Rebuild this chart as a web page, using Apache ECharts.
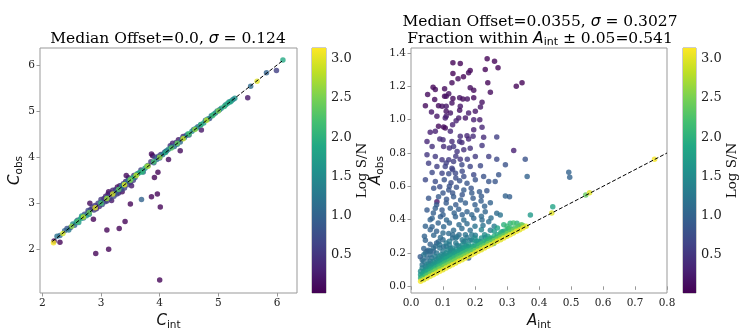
<!DOCTYPE html>
<html>
<head>
<meta charset="utf-8">
<script src="https://cdn.jsdelivr.net/npm/echarts@6/dist/echarts.min.js"></script>
<style>
  html, body { margin: 0; padding: 0; background: #fff; }
  #chart { width: 747px; height: 336px; }
</style>
</head>
<body>
<div id="chart"></div>
<script>
// [C_int, C_obs, log S/N]
const cPoints = [
  [4.0, 1.33, 0.05], [2.91, 1.91, 0.05], [3.13, 2.0, 0.05], [3.10, 2.42, 0.05], [3.31, 2.45, 0.05],
  [3.41, 2.60, 0.05], [3.50, 2.98, 0.05], [4.01, 2.92, 0.05], [3.86, 3.14, 0.05], [3.96, 3.2, 0.05],
  [3.69, 3.08, 1.0], [3.91, 3.56, 0.05], [3.97, 3.67, 0.05], [2.87, 2.65, 0.05], [2.81, 3.0, 0.1],
  [2.30, 2.15, 0.05], [4.15, 3.95, 0.1], [4.35, 4.14, 0.1], [4.71, 4.59, 0.2], [5.50, 5.29, 0.2],
  [5.99, 5.88, 0.6], [6.10, 6.11, 1.9], [5.82, 5.83, 1.0], [5.66, 5.65, 3.0], [5.55, 5.54, 1.1],
  [2.19, 2.14, 3.1], [2.20, 2.18, 0.05],
  [2.35, 2.34, 2.9], [2.5, 2.5, 2.6], [2.6, 2.6, 2.2], [2.7, 2.7, 2.8], [2.8, 2.8, 2.4], [2.9, 2.9, 3.0],
  [3.0, 3.0, 2.2], [3.1, 3.1, 2.7], [3.2, 3.2, 2.9], [3.3, 3.3, 2.3], [3.4, 3.4, 3.0], [3.5, 3.5, 2.5],
  [3.6, 3.6, 2.8], [3.7, 3.7, 2.0], [3.8, 3.8, 2.7], [3.9, 3.9, 2.2], [4.0, 4.0, 2.6], [4.1, 4.1, 1.9],
  [4.2, 4.2, 2.3], [4.3, 4.3, 2.4], [4.4, 4.4, 2.9], [4.5, 4.5, 2.2], [4.6, 4.6, 2.6], [4.7, 4.7, 2.0],
  [4.8, 4.8, 2.8], [4.9, 4.9, 2.1], [5.0, 5.0, 2.5], [5.1, 5.1, 2.0], [5.2, 5.2, 1.8], [5.28, 5.28, 1.6],
  [2.25, 2.28, 1.2], [2.3, 2.3, 1.1], [2.38, 2.4, 1.0], [2.42, 2.45, 0.8], [2.45, 2.42, 1.3], [2.48, 2.47, 0.7],
  [2.52, 2.55, 1.5], [2.55, 2.52, 1.0], [2.58, 2.6, 1.6], [2.6, 2.63, 0.9], [2.62, 2.58, 1.7], [2.65, 2.66, 1.9],
  [2.67, 2.72, 1.5], [2.68, 2.7, 1.8], [2.7, 2.68, 1.2], [2.72, 2.76, 0.8], [2.75, 2.73, 1.6], [2.78, 2.8, 0.6],
  [2.78, 2.84, 0.7], [2.8, 2.76, 1.4],
  [2.82, 2.86, 0.4], [2.85, 2.92, 0.5], [2.88, 2.85, 0.6], [2.9, 2.95, 0.5], [2.92, 2.88, 0.3],
  [2.95, 3.0, 0.6], [2.97, 2.93, 0.4], [3.0, 3.08, 0.5], [3.02, 2.97, 0.7], [3.05, 3.1, 0.4], [3.07, 3.03, 0.6],
  [3.08, 3.15, 0.3], [3.1, 3.05, 0.5], [3.12, 3.2, 0.2], [3.13, 3.25, 0.1], [3.15, 3.1, 0.6], [3.17, 3.22, 0.4],
  [3.18, 3.06, 0.2], [3.2, 3.28, 0.3], [3.22, 3.15, 0.7], [3.25, 3.3, 0.5], [3.27, 3.2, 0.6], [3.28, 3.35, 0.1],
  [3.3, 3.22, 0.4], [3.32, 3.38, 0.2], [3.35, 3.3, 0.7], [3.36, 3.25, 0.1], [3.38, 3.42, 0.5], [3.4, 3.33, 0.6],
  [3.42, 3.47, 0.3], [3.43, 3.6, 0.1], [3.45, 3.4, 0.6], [3.47, 3.55, 0.2], [3.5, 3.45, 0.5], [3.52, 3.38, 0.2],
  [3.55, 3.5, 0.6], [3.56, 3.6, 0.4], [3.58, 3.56, 0.7],
  [3.0, 3.02, 1.0], [3.1, 3.12, 1.2], [3.25, 3.24, 1.0], [3.35, 3.37, 1.3], [3.45, 3.48, 1.1],
  [3.4, 3.41, 2.0], [3.5, 3.52, 2.2], [3.55, 3.56, 1.9], [3.6, 3.62, 2.1], [3.65, 3.66, 1.8], [3.7, 3.68, 2.0],
  [3.75, 3.76, 1.6], [3.78, 3.8, 2.4],
  [3.62, 3.64, 0.9], [3.68, 3.72, 0.6], [3.72, 3.68, 1.1], [3.8, 3.82, 0.8], [3.85, 3.9, 0.5], [3.86, 4.07, 0.1],
  [3.88, 4.03, 0.1], [3.9, 3.88, 0.9], [3.92, 4.0, 0.6], [3.95, 3.95, 1.2], [3.98, 4.02, 0.7], [4.0, 3.98, 1.0],
  [4.02, 4.06, 0.5], [4.05, 4.05, 1.4], [4.08, 4.1, 0.8], [4.1, 4.12, 1.1], [4.12, 4.14, 0.9], [4.15, 4.17, 1.5],
  [4.18, 4.25, 0.4], [4.2, 4.22, 1.0], [4.22, 4.3, 0.3], [4.25, 4.23, 1.2], [4.28, 4.32, 0.5], [4.3, 4.28, 1.3],
  [4.32, 4.38, 0.2], [4.35, 4.33, 1.1], [4.38, 4.4, 0.9], [4.4, 4.45, 0.3], [4.42, 4.42, 1.5], [4.45, 4.47, 0.6],
  [4.48, 4.5, 1.7], [4.5, 4.48, 0.8],
  [4.55, 4.56, 1.5], [4.58, 4.6, 1.0], [4.62, 4.63, 1.7], [4.65, 4.66, 0.9], [4.7, 4.71, 1.4], [4.75, 4.74, 1.8],
  [4.78, 4.8, 1.2], [4.82, 4.83, 1.6], [4.85, 4.84, 0.7], [4.88, 4.9, 1.3], [4.92, 4.93, 1.9], [4.95, 4.96, 1.1],
  [4.98, 5.0, 1.5], [5.02, 5.03, 0.9], [5.05, 5.06, 1.7], [5.12, 5.13, 1.3], [5.15, 5.16, 1.9], [5.18, 5.2, 1.4],
  [5.22, 5.22, 1.7], [5.25, 5.25, 1.2]
];

// [A_int, A_obs, log S/N]
const aPoints = [
  // upper scatter
  [0.238, 1.365, 0.05], [0.261, 1.351, 0.05], [0.272, 1.311, 0.05], [0.131, 1.341, 0.05], [0.154, 1.337, 0.05],
  [0.232, 1.301, 0.05], [0.185, 1.295, 0.05], [0.180, 1.281, 0.1], [0.131, 1.277, 0.05], [0.147, 1.245, 0.1],
  [0.164, 1.257, 0.05], [0.128, 1.221, 0.1], [0.347, 1.221, 0.05], [0.329, 1.201, 0.05], [0.240, 1.221, 0.05],
  [0.069, 1.195, 0.05], [0.076, 1.181, 0.1], [0.105, 1.185, 0.1], [0.185, 1.191, 0.1], [0.196, 1.177, 0.1],
  [0.118, 1.155, 0.15], [0.248, 1.165, 0.1], [0.052, 1.151, 0.1], [0.074, 1.121, 0.1], [0.105, 1.141, 0.1],
  [0.110, 1.141, 0.15], [0.131, 1.127, 0.1], [0.152, 1.131, 0.15], [0.162, 1.124, 0.1], [0.176, 1.124, 0.15],
  [0.196, 1.131, 0.1], [0.128, 1.100, 0.15], [0.154, 1.080, 0.2], [0.152, 1.056, 0.15], [0.086, 1.084, 0.1],
  [0.097, 1.080, 0.15], [0.110, 1.080, 0.2], [0.045, 1.084, 0.1], [0.222, 1.104, 0.15], [0.217, 1.076, 0.2],
  [0.064, 1.046, 0.2], [0.110, 1.050, 0.15], [0.123, 1.040, 0.2], [0.180, 1.040, 0.25], [0.201, 1.050, 0.2],
  [0.081, 1.020, 0.2], [0.107, 1.010, 0.3], [0.149, 1.010, 0.25], [0.170, 1.010, 0.2], [0.141, 0.994, 0.3],
  [0.196, 1.000, 0.3], [0.215, 1.000, 0.25],
  [0.086, 0.960, 0.1], [0.102, 0.956, 0.1], [0.107, 0.950, 0.1], [0.060, 0.924, 0.3], [0.076, 0.930, 0.3],
  [0.123, 0.930, 0.35], [0.196, 0.940, 0.3], [0.222, 0.954, 0.35], [0.154, 0.900, 0.4], [0.175, 0.904, 0.35],
  [0.194, 0.900, 0.4], [0.227, 0.894, 0.4], [0.268, 0.896, 0.6], [0.050, 0.869, 0.35], [0.090, 0.884, 0.4],
  [0.128, 0.869, 0.4], [0.152, 0.869, 0.45], [0.159, 0.863, 0.4], [0.180, 0.884, 0.35], [0.066, 0.839, 0.45],
  [0.102, 0.839, 0.4], [0.133, 0.839, 0.5], [0.185, 0.829, 0.45], [0.222, 0.845, 0.5], [0.321, 0.815, 0.3],
  [0.144, 0.809, 0.5], [0.165, 0.819, 0.45], [0.050, 0.789, 0.5], [0.076, 0.779, 0.55], [0.097, 0.759, 0.5],
  [0.118, 0.759, 0.55], [0.133, 0.749, 0.6], [0.154, 0.763, 0.5], [0.176, 0.763, 0.6], [0.201, 0.779, 0.55],
  [0.243, 0.779, 0.6], [0.268, 0.763, 0.7], [0.357, 0.763, 0.8],
  [0.055, 0.739, 0.6], [0.081, 0.719, 0.6], [0.107, 0.719, 0.65], [0.128, 0.709, 0.6], [0.159, 0.729, 0.7],
  [0.185, 0.719, 0.65], [0.217, 0.723, 0.7], [0.295, 0.729, 0.8], [0.066, 0.683, 0.7], [0.097, 0.679, 0.65],
  [0.118, 0.675, 0.75], [0.139, 0.679, 0.7], [0.165, 0.659, 0.75], [0.196, 0.669, 0.7], [0.227, 0.659, 0.8],
  [0.274, 0.669, 0.85], [0.263, 0.629, 0.85], [0.363, 0.659, 1.0], [0.493, 0.685, 1.0], [0.496, 0.655, 1.0],
  [0.045, 0.639, 0.7], [0.076, 0.629, 0.75], [0.104, 0.639, 0.8], [0.125, 0.622, 0.75], [0.152, 0.633, 0.8],
  [0.175, 0.618, 0.85], [0.201, 0.639, 0.8], [0.243, 0.629, 0.85], [0.071, 0.588, 0.8], [0.090, 0.598, 0.75],
  [0.118, 0.578, 0.85], [0.142, 0.594, 0.8], [0.165, 0.578, 0.9], [0.188, 0.588, 0.85], [0.214, 0.568, 0.9],
  [0.237, 0.574, 0.85], [0.295, 0.542, 1.0], [0.308, 0.538, 0.95], [0.055, 0.528, 0.85], [0.086, 0.538, 0.9],
  [0.111, 0.522, 0.85], [0.133, 0.538, 0.9], [0.155, 0.518, 0.95], [0.194, 0.528, 0.9], [0.219, 0.512, 0.95],
  [0.081, 0.508, 0.2], [0.248, 0.502, 1.0],
  [0.050, 0.458, 0.9], [0.076, 0.468, 0.95], [0.097, 0.458, 0.9], [0.123, 0.468, 1.0], [0.149, 0.462, 0.95],
  [0.175, 0.448, 1.0], [0.206, 0.458, 1.0], [0.232, 0.448, 1.05], [0.268, 0.438, 1.1], [0.279, 0.428, 1.2],
  [0.373, 0.428, 1.7], [0.443, 0.478, 1.8], [0.066, 0.408, 1.0], [0.092, 0.418, 0.95], [0.111, 0.398, 1.05],
  [0.139, 0.418, 1.0], [0.165, 0.398, 1.1], [0.196, 0.408, 1.05], [0.222, 0.398, 1.1], [0.243, 0.388, 1.15],
  [0.066, 0.357, 1.0], [0.102, 0.357, 1.05], [0.133, 0.337, 1.1], [0.159, 0.347, 1.1], [0.185, 0.337, 1.15],
  [0.248, 0.337, 1.3], [0.310, 0.378, 2.0], [0.331, 0.378, 2.0], [0.305, 0.347, 1.9], [0.042, 0.301, 1.0],
  [0.071, 0.307, 1.05], [0.092, 0.293, 1.1], [0.118, 0.317, 1.1], [0.144, 0.297, 1.2], [0.175, 0.293, 1.25],
  [0.201, 0.307, 1.3], [0.232, 0.293, 1.4],
  [0.06, 0.40, 1.0], [0.085, 0.38, 1.0], [0.12, 0.38, 1.05], [0.15, 0.37, 1.1], [0.175, 0.375, 1.1],
  [0.2, 0.36, 1.2], [0.225, 0.365, 1.2], [0.26, 0.36, 1.3], [0.07, 0.44, 0.95], [0.1, 0.43, 0.95],
  [0.135, 0.44, 1.0], [0.16, 0.43, 1.0], [0.19, 0.43, 1.05], [0.22, 0.42, 1.1], [0.25, 0.41, 1.15],
  [0.08, 0.49, 0.9], [0.11, 0.5, 0.9], [0.14, 0.49, 0.9], [0.17, 0.5, 0.95], [0.2, 0.49, 0.95],
  [0.23, 0.48, 1.0], [0.1, 0.56, 0.85], [0.13, 0.56, 0.85], [0.16, 0.55, 0.85], [0.19, 0.56, 0.9],
  [0.22, 0.54, 0.9], [0.12, 0.6, 0.8], [0.14, 0.65, 0.75], [0.13, 0.7, 0.65], [0.16, 0.69, 0.7],
  [0.11, 0.74, 0.6], [0.14, 0.78, 0.55], [0.12, 0.83, 0.45], [0.1, 0.88, 0.4], [0.13, 0.97, 0.3],
  [0.11, 1.02, 0.25],
  [0.029, 0.177, 0.9], [0.040, 0.227, 1.0], [0.045, 0.277, 1.0], [0.055, 0.217, 1.05], [0.060, 0.253, 1.0],
  [0.076, 0.241, 1.1], [0.086, 0.267, 1.05], [0.102, 0.237, 1.15], [0.123, 0.227, 1.2], [0.144, 0.247, 1.2],
  [0.165, 0.267, 1.25], [0.185, 0.277, 1.3], [0.196, 0.237, 1.35], [0.217, 0.267, 1.4], [0.240, 0.277, 1.45],
  [0.258, 0.257, 1.6], [0.284, 0.327, 1.9], [0.248, 0.287, 1.5], [0.18, 0.17, 0.9],
  // dense band above the one-to-one line
  [0.03, 0.05, 2.0], [0.03, 0.07, 1.7], [0.03, 0.09, 1.5],
  [0.035, 0.045, 2.3], [0.035, 0.06, 1.9], [0.035, 0.11, 1.4], [0.035, 0.13, 1.2],
  [0.04, 0.055, 2.1], [0.04, 0.07, 1.8], [0.04, 0.09, 1.6], [0.04, 0.15, 1.2],
  [0.045, 0.06, 2.2], [0.045, 0.08, 1.8], [0.045, 0.10, 1.5], [0.045, 0.12, 1.3],
  [0.05, 0.065, 2.3], [0.05, 0.08, 1.9], [0.05, 0.10, 1.6], [0.05, 0.13, 1.4], [0.05, 0.17, 1.1], [0.05, 0.21, 0.9],
  [0.055, 0.07, 2.2], [0.055, 0.09, 1.8], [0.055, 0.11, 1.6], [0.055, 0.14, 1.3],
  [0.06, 0.075, 2.4], [0.06, 0.09, 2.0], [0.06, 0.12, 1.6], [0.06, 0.15, 1.3], [0.06, 0.19, 1.1],
  [0.065, 0.08, 2.3], [0.065, 0.10, 1.9], [0.065, 0.13, 1.5], [0.065, 0.17, 1.2],
  [0.07, 0.085, 2.4], [0.07, 0.10, 2.0], [0.07, 0.12, 1.7], [0.07, 0.15, 1.4], [0.07, 0.21, 1.0],
  [0.075, 0.09, 2.5], [0.075, 0.11, 2.0], [0.075, 0.14, 1.6], [0.075, 0.18, 1.3],
  [0.08, 0.095, 2.3], [0.08, 0.115, 1.9], [0.08, 0.13, 1.7], [0.08, 0.16, 1.4], [0.08, 0.20, 1.2], [0.08, 0.26, 1.0],
  [0.085, 0.10, 2.4], [0.085, 0.12, 2.0], [0.085, 0.15, 1.6], [0.085, 0.17, 1.4],
  [0.09, 0.105, 2.5], [0.09, 0.12, 2.1], [0.09, 0.14, 1.8], [0.09, 0.18, 1.5], [0.09, 0.23, 1.2],
  [0.095, 0.11, 2.3], [0.095, 0.13, 2.0], [0.095, 0.16, 1.6], [0.095, 0.19, 1.4],
  [0.10, 0.115, 2.4], [0.10, 0.13, 2.1], [0.10, 0.15, 1.8], [0.10, 0.17, 1.6], [0.10, 0.21, 1.3], [0.10, 0.28, 1.1],
  [0.105, 0.12, 2.5], [0.105, 0.14, 2.1], [0.105, 0.16, 1.7], [0.105, 0.19, 1.5],
  [0.11, 0.125, 2.4], [0.11, 0.14, 2.1], [0.11, 0.165, 1.8], [0.11, 0.20, 1.5], [0.11, 0.24, 1.2],
  [0.115, 0.13, 2.5], [0.115, 0.15, 2.0], [0.115, 0.17, 1.7], [0.115, 0.22, 1.4],
  [0.12, 0.135, 2.4], [0.12, 0.15, 2.2], [0.12, 0.175, 1.8], [0.12, 0.19, 1.6], [0.12, 0.25, 1.3],
  [0.125, 0.14, 2.5], [0.125, 0.16, 2.1], [0.125, 0.18, 1.8], [0.125, 0.21, 1.5],
  [0.13, 0.145, 2.4], [0.13, 0.165, 2.0], [0.13, 0.19, 1.7], [0.13, 0.23, 1.4], [0.13, 0.29, 1.1],
  [0.135, 0.15, 2.5], [0.135, 0.17, 2.1], [0.135, 0.20, 1.7],
  [0.14, 0.155, 2.4], [0.14, 0.175, 2.0], [0.14, 0.19, 1.8], [0.14, 0.22, 1.5], [0.14, 0.26, 1.3],
  [0.145, 0.16, 2.5], [0.145, 0.18, 2.1], [0.145, 0.21, 1.7],
  [0.15, 0.165, 2.4], [0.15, 0.185, 2.1], [0.15, 0.20, 1.8], [0.15, 0.24, 1.4], [0.15, 0.31, 1.1],
  [0.155, 0.17, 2.5], [0.155, 0.19, 2.0], [0.155, 0.22, 1.6],
  [0.16, 0.175, 2.4], [0.16, 0.195, 2.1], [0.16, 0.21, 1.8], [0.16, 0.25, 1.5],
  [0.165, 0.18, 2.5], [0.165, 0.20, 2.1], [0.165, 0.23, 1.7],
  [0.17, 0.185, 2.4], [0.17, 0.205, 2.0], [0.17, 0.22, 1.8], [0.17, 0.27, 1.4],
  [0.175, 0.19, 2.5], [0.175, 0.21, 2.1], [0.175, 0.24, 1.6],
  [0.18, 0.195, 2.4], [0.18, 0.215, 2.0], [0.18, 0.25, 1.6],
  [0.19, 0.205, 2.4], [0.19, 0.22, 2.1], [0.19, 0.24, 1.8], [0.19, 0.28, 1.4],
  [0.20, 0.215, 2.5], [0.20, 0.235, 2.0], [0.20, 0.26, 1.7],
  [0.21, 0.225, 2.4], [0.21, 0.245, 2.0], [0.21, 0.27, 1.7],
  [0.22, 0.235, 2.5], [0.22, 0.255, 2.1], [0.22, 0.29, 1.6],
  [0.23, 0.245, 2.4], [0.23, 0.27, 2.0],
  [0.24, 0.255, 2.5], [0.24, 0.28, 2.0], [0.24, 0.30, 1.7],
  [0.25, 0.265, 2.4], [0.25, 0.29, 2.0],
  [0.26, 0.275, 2.5], [0.26, 0.30, 2.0],
  [0.27, 0.285, 2.4], [0.27, 0.31, 1.9],
  [0.28, 0.295, 2.5], [0.28, 0.32, 2.0],
  [0.29, 0.305, 2.4], [0.29, 0.33, 1.9], [0.29, 0.37, 2.0],
  [0.30, 0.315, 2.5], [0.30, 0.34, 2.1], [0.30, 0.36, 2.1],
  [0.31, 0.325, 2.4], [0.31, 0.35, 2.2],
  [0.32, 0.335, 2.5], [0.32, 0.38, 2.2],
  [0.33, 0.345, 2.4], [0.34, 0.36, 2.3], [0.35, 0.365, 2.5],
  [0.037, 0.075, 1.8], [0.042, 0.085, 1.7], [0.047, 0.07, 2.0], [0.052, 0.09, 1.9], [0.057, 0.12, 1.5],
  [0.062, 0.105, 1.8], [0.067, 0.09, 2.1], [0.072, 0.13, 1.6], [0.077, 0.10, 2.2], [0.082, 0.14, 1.6],
  [0.087, 0.11, 2.2], [0.092, 0.155, 1.6], [0.097, 0.12, 2.2], [0.102, 0.18, 1.5], [0.107, 0.13, 2.2],
  [0.112, 0.18, 1.6], [0.117, 0.14, 2.2], [0.122, 0.20, 1.5], [0.127, 0.15, 2.2], [0.132, 0.21, 1.5],
  [0.137, 0.16, 2.2], [0.142, 0.20, 1.7], [0.147, 0.17, 2.3], [0.152, 0.22, 1.6], [0.157, 0.18, 2.2],
  [0.162, 0.23, 1.6], [0.167, 0.19, 2.2], [0.172, 0.24, 1.6], [0.177, 0.20, 2.2], [0.182, 0.23, 1.8],
  [0.185, 0.21, 2.2], [0.195, 0.23, 2.0], [0.205, 0.24, 2.0], [0.205, 0.27, 1.6], [0.215, 0.25, 2.1],
  [0.225, 0.26, 2.0], [0.235, 0.27, 1.9], [0.245, 0.27, 2.1], [0.255, 0.28, 2.0], [0.265, 0.29, 2.0],
  [0.275, 0.30, 2.1], [0.285, 0.31, 2.1], [0.295, 0.32, 2.0], [0.305, 0.33, 2.1], [0.315, 0.34, 2.2],
  [0.325, 0.35, 2.2], [0.335, 0.36, 2.3], [0.345, 0.37, 2.3], [0.12, 0.27, 1.3], [0.16, 0.28, 1.3],
  [0.11, 0.26, 1.3], [0.09, 0.25, 1.2], [0.07, 0.23, 1.1], [0.06, 0.21, 1.1], [0.2, 0.29, 1.5],
  [0.23, 0.31, 1.5], [0.26, 0.33, 1.7], [0.27, 0.35, 1.8], [0.22, 0.34, 1.4], [0.19, 0.31, 1.3],
  [0.17, 0.31, 1.2], [0.14, 0.29, 1.2], [0.13, 0.31, 1.1], [0.1, 0.32, 1.1], [0.08, 0.33, 1.0],
  [0.06, 0.34, 1.0], [0.045, 0.36, 1.0], [0.04, 0.19, 1.2], [0.035, 0.16, 1.1], [0.045, 0.2, 1.1],
  // on the line
  [0.03, 0.03, 3.1], [0.04, 0.04, 3.0], [0.05, 0.05, 3.1], [0.06, 0.06, 3.0], [0.07, 0.07, 3.1],
  [0.08, 0.08, 3.0], [0.09, 0.09, 3.1], [0.10, 0.10, 3.0], [0.11, 0.11, 3.1], [0.12, 0.12, 3.0],
  [0.13, 0.13, 3.1], [0.14, 0.14, 3.0], [0.15, 0.15, 3.1], [0.16, 0.16, 3.0], [0.17, 0.17, 3.1],
  [0.18, 0.18, 3.0], [0.19, 0.19, 3.1], [0.20, 0.20, 3.0], [0.21, 0.21, 3.1], [0.22, 0.22, 3.0],
  [0.23, 0.23, 3.1], [0.24, 0.24, 3.0], [0.25, 0.25, 3.1], [0.26, 0.26, 3.0], [0.27, 0.27, 3.1],
  [0.28, 0.28, 3.0], [0.29, 0.29, 3.1], [0.30, 0.30, 3.0], [0.31, 0.31, 3.1], [0.32, 0.32, 3.0],
  [0.33, 0.33, 3.1], [0.34, 0.34, 3.0], [0.35, 0.35, 3.1], [0.36, 0.36, 3.0],
  [0.44, 0.44, 3.0], [0.546, 0.548, 2.4], [0.558, 0.562, 3.0], [0.761, 0.763, 3.1]
];

const cLine = [[2.17, 2.17], [6.1, 6.1]];
const aLine = [[0.03, 0.03], [0.8, 0.8]];

const cTicksX = [2, 3, 4, 5, 6];
const cTicksY = [2, 3, 4, 5, 6];
const aTicksX = [0, 0.1, 0.2, 0.3, 0.4, 0.5, 0.6, 0.7, 0.8];
const aTicksY = [0, 0.2, 0.4, 0.6, 0.8, 1.0, 1.2, 1.4];
const snTicks = [0.5, 1.0, 1.5, 2.0, 2.5, 3.0];
const snRange = [0.01, 3.14];

const leftTitle = '{t|Median Offset=0.0, }{s|σ}{t| = 0.124}';
const rightTitle1 = '{t|Median Offset=0.0355, }{s|σ}{t| = 0.3027}';
const rightTitle2 = '{t|Fraction within }{s|A}{sub|int}{t| ± 0.05=0.541}';

const viridis = ['#440154', '#482475', '#414487', '#355f8d', '#2a788e', '#21918c',
  '#22a884', '#44bf70', '#7ad151', '#bddf26', '#fde725'];

const serif = 'DejaVu Serif';
const frame = '#999';

const nameRich = {
  a: { fontFamily: 'DejaVu Sans', fontStyle: 'italic', fontSize: 15, color: '#111' },
  b: { fontFamily: 'DejaVu Sans', fontSize: 10.5, color: '#111', padding: [7, 0, 0, 0] }
};
const titleRich = {
  t: { fontFamily: serif, fontSize: 15.5, color: '#111' },
  s: { fontFamily: 'DejaVu Sans', fontStyle: 'italic', fontSize: 15.5, color: '#111' },
  sub: { fontFamily: 'DejaVu Sans', fontSize: 11, color: '#111', padding: [7, 0, 0, 0] }
};

function axis (gridIndex, min, max, ticks, digits, fontSize) {
  return {
    type: 'value',
    gridIndex: gridIndex,
    min: min,
    max: max,
    splitLine: { show: false },
    axisLine: { show: false },
    axisTick: { show: true, length: 3.5, lineStyle: { color: frame }, customValues: ticks },
    axisLabel: {
      customValues: ticks,
      fontFamily: serif,
      fontSize: fontSize || 10.5,
      color: '#222',
      margin: 5,
      formatter: function (v) { return v.toFixed(digits) }
    }
  }
}

const byLogSN = (a, b) => a[2] - b[2];

const chart = echarts.init(document.getElementById('chart'), null, { renderer: 'canvas' });

const colorbar = (idx) => ({
  type: 'custom',
  xAxisIndex: idx,
  yAxisIndex: idx,
  silent: true,
  data: [snRange],
  renderItem: function (params, api) {
    const lo = api.coord([0, api.value(0)]);
    const hi = api.coord([1, api.value(1)]);
    return {
      type: 'rect',
      shape: { x: lo[0], y: hi[1], width: hi[0] - lo[0], height: lo[1] - hi[1] },
      style: {
        fill: new echarts.graphic.LinearGradient(0, 1, 0, 0,
          viridis.map((c, i) => ({ offset: i / (viridis.length - 1), color: c })))
      }
    }
  }
});

const gridBase = { show: true, borderColor: frame, borderWidth: 1, backgroundColor: 'transparent' };

const cbYAxis = (idx, gap) => Object.assign(axis(idx, snRange[0], snRange[1], snTicks, 1, 13), {
  position: 'right',
  name: 'Log S/N',
  nameLocation: 'middle',
  nameRotate: 90,
  nameGap: gap,
  nameTextStyle: { fontFamily: serif, fontSize: 13.5, color: '#111' }
});

chart.setOption({
  animation: false,
  backgroundColor: '#fff',
  grid: [
    Object.assign({ left: 40, top: 48, width: 257, height: 245 }, gridBase),
    Object.assign({ left: 312, top: 48, width: 14, height: 245 }, gridBase),
    Object.assign({ left: 411, top: 48, width: 256, height: 245 }, gridBase),
    Object.assign({ left: 683, top: 48, width: 13, height: 245 }, gridBase)
  ],
  xAxis: [
    Object.assign(axis(0, 1.96, 6.34, cTicksX, 0), {
      name: '{a|C}{b|int}', nameLocation: 'middle', nameGap: 13, nameTextStyle: { rich: nameRich }
    }),
    { type: 'value', gridIndex: 1, min: 0, max: 1, show: false },
    Object.assign(axis(2, 0, 0.8, aTicksX, 1), {
      name: '{a|A}{b|int}', nameLocation: 'middle', nameGap: 13, nameTextStyle: { rich: nameRich }
    }),
    { type: 'value', gridIndex: 3, min: 0, max: 1, show: false }
  ],
  yAxis: [
    Object.assign(axis(0, 1.05, 6.37, cTicksY, 0), {
      name: '{a|C}{b|obs}', nameLocation: 'middle', nameGap: 11, nameTextStyle: { rich: nameRich }
    }),
    cbYAxis(1, 23),
    Object.assign(axis(2, -0.04, 1.43, aTicksY, 1), {
      name: '{a|A}{b|obs}', nameLocation: 'middle', nameGap: 18, nameTextStyle: { rich: nameRich }
    }),
    cbYAxis(3, 25)
  ],
  visualMap: {
    type: 'continuous',
    show: false,
    min: snRange[0],
    max: snRange[1],
    dimension: 2,
    seriesIndex: [0, 3],
    inRange: { color: viridis }
  },
  graphic: [
    { type: 'text', x: 168, y: 39, style: { text: leftTitle, align: 'center', verticalAlign: 'middle', rich: titleRich } },
    { type: 'text', x: 540, y: 22, style: { text: rightTitle1, align: 'center', verticalAlign: 'middle', rich: titleRich } },
    { type: 'text', x: 540, y: 39, style: { text: rightTitle2, align: 'center', verticalAlign: 'middle', rich: titleRich } }
  ],
  series: [
    {
      type: 'scatter', xAxisIndex: 0, yAxisIndex: 0, symbolSize: 5.5,
      data: cPoints.slice().sort(byLogSN)
    },
    {
      type: 'line', xAxisIndex: 0, yAxisIndex: 0, data: cLine, symbol: 'none', silent: true, z: 5,
      lineStyle: { color: '#000', width: 1, type: [4, 2] }
    },
    colorbar(1),
    {
      type: 'scatter', xAxisIndex: 2, yAxisIndex: 2, symbolSize: 5.5,
      data: aPoints.slice().sort(byLogSN)
    },
    {
      type: 'line', xAxisIndex: 2, yAxisIndex: 2, data: aLine, symbol: 'none', silent: true, z: 5,
      lineStyle: { color: '#000', width: 1, type: [4, 2] }
    },
    colorbar(3)
  ]
});
</script>
</body>
</html>
